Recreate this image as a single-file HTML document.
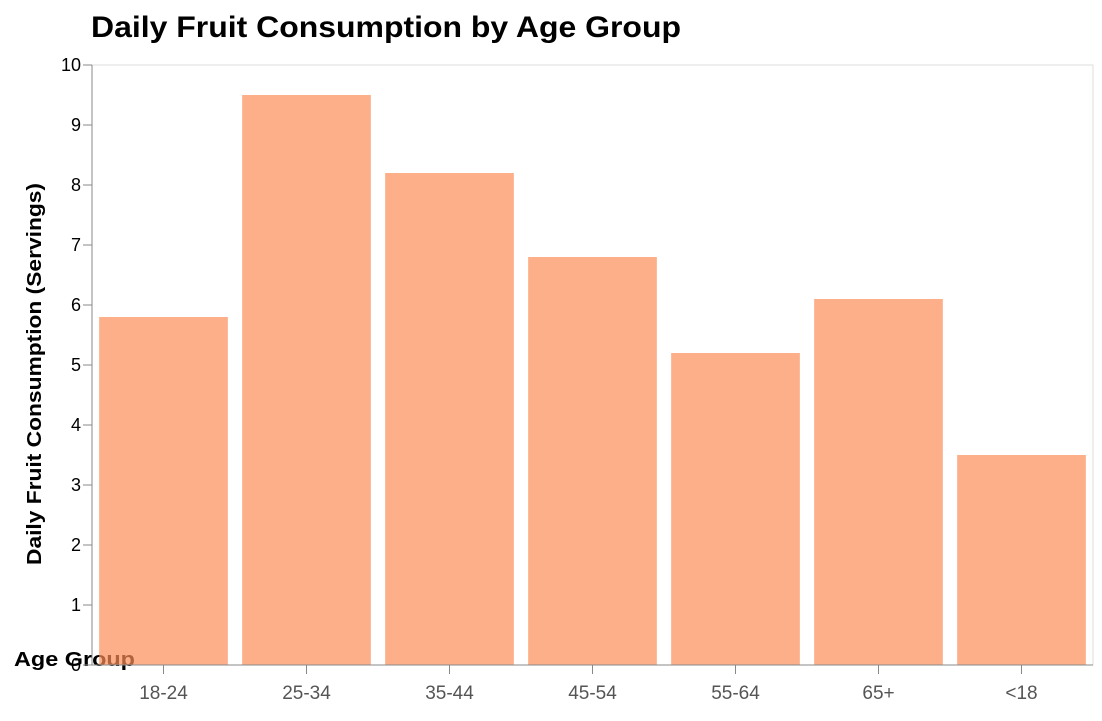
<!DOCTYPE html>
<html><head><meta charset="utf-8"><style>
body{margin:0;background:#fff;font-family:"Liberation Sans",Arial,sans-serif}
</style></head><body>
<svg id="chart" width="1102" height="716" xmlns="http://www.w3.org/2000/svg">
<text x="91" y="37" font-size="30" font-weight="bold" fill="#000" textLength="590" lengthAdjust="spacingAndGlyphs">Daily Fruit Consumption by Age Group</text>
<rect x="92" y="65" width="1001" height="600" fill="none" stroke="#ddd" stroke-width="1"/>
<text x="14" y="666" font-size="20" font-weight="bold" fill="#000" textLength="121" lengthAdjust="spacingAndGlyphs">Age Group</text>
<text transform="translate(41,374) rotate(-90)" text-anchor="middle" font-size="20" font-weight="bold" fill="#000" textLength="382" lengthAdjust="spacingAndGlyphs">Daily Fruit Consumption (Servings)</text>
<g id="bars"></g>
<g id="axes"></g>
</svg>
<script>
const categories = ["18-24","25-34","35-44","45-54","55-64","65+","<18"];
const values = [5.8, 9.5, 8.2, 6.8, 5.2, 6.1, 3.5];
const yTicks = [0,1,2,3,4,5,6,7,8,9,10];
const NS="http://www.w3.org/2000/svg";
const x0=92,x1=1093,y0=665,y1=65,yMax=10;
const band=(x1-x0)/categories.length, pad=0.1;
const xPos=i=>x0+i*band;
const yPos=v=>y0-(v/yMax)*(y0-y1);
const bars=document.getElementById('bars'), axes=document.getElementById('axes');
function mk(tag,attrs,parent){const e=document.createElementNS(NS,tag);for(const k in attrs)e.setAttribute(k,attrs[k]);parent.appendChild(e);return e;}
categories.forEach((c,i)=>{
  const r=mk('rect',{x:xPos(i)+band*pad/2,y:yPos(values[i]),width:band*(1-pad),height:y0-yPos(values[i]),fill:'#fc8d59','fill-opacity':0.7},bars);
  
  
  const t=mk('line',{x1:xPos(i)+band/2,x2:xPos(i)+band/2,y1:y0,y2:y0+9,stroke:'#888'},axes);
  
  
  const l=mk('text',{x:xPos(i)+band/2,y:699,'text-anchor':'middle','font-size':19,fill:'#555'},axes);
  l.textContent=c;
  
  
});
yTicks.forEach(v=>{
  const t=mk('line',{x1:x0-9,x2:x0,y1:yPos(v),y2:yPos(v),stroke:'#888'},axes);
  
  
  const l=mk('text',{x:x0-11,y:yPos(v)+6,'text-anchor':'end','font-size':18,fill:'#000'},axes);
  l.textContent=v;
  
  
});
const ax=mk('line',{x1:x0,x2:x0,y1:y1,y2:y0,stroke:'#888'},axes);


const bx=mk('line',{x1:x0,x2:x1,y1:y0,y2:y0,stroke:'#888'},axes);


</script>
</body></html>
